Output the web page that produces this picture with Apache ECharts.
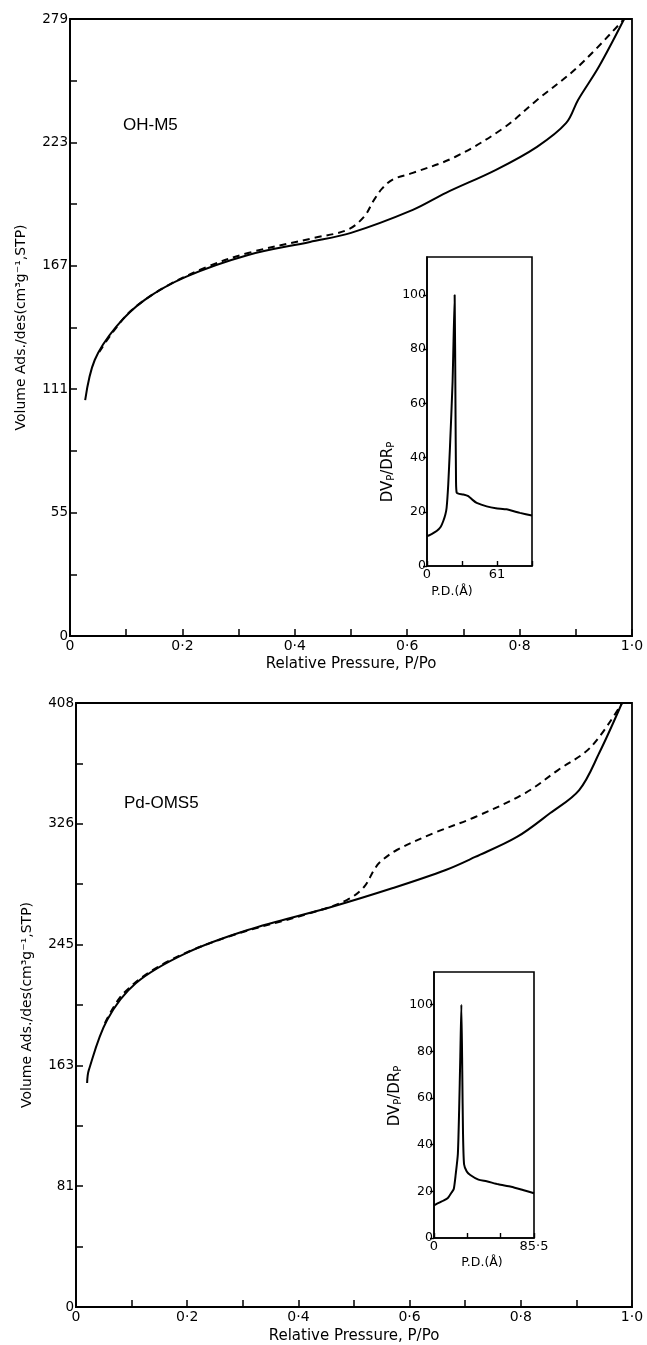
<!DOCTYPE html>
<html>
<head>
<meta charset="utf-8">
<script src="https://cdn.jsdelivr.net/npm/echarts@6/dist/echarts.min.js"></script>
<style>html,body{margin:0;padding:0;background:#fff;}#c{width:647px;height:1345px;}</style>
</head>
<body>
<div id="c"></div>
<script>
// ---------- data ----------
const pLabels = ['0','0·2','0·4','0·6','0·8','1·0'];
const yLabelsTop = ['0','55','111','167','223','279'];
const yLabelsBottom = ['0','81','163','245','326','408'];
const insetTopXLabels = ['0','','61',''];
const insetBottomXLabels = ['0','','','85·5'];
const insetYTicks = [0,20,40,60,80,100];

// OH-M5 adsorption (solid) and desorption (dashed): [P/Po, volume]
const ohAds = [[0.027,106.7],[0.044,124.8],[0.082,139.8],[0.133,152],[0.206,162.4],[0.317,172.3],[0.427,178.2],[0.5,182.3],[0.61,192.7],[0.669,200.4],[0.758,210.8],[0.831,221.2],[0.883,232],[0.904,242.4],[0.941,257.4],[0.986,279]];
const ohDes = [[0.052,128.4],[0.075,137],[0.11,147.4],[0.169,157.8],[0.244,166.9],[0.317,173.2],[0.434,180],[0.493,183.6],[0.523,189.5],[0.541,197.2],[0.556,202.5],[0.575,206.5],[0.61,209.4],[0.685,216.6],[0.772,229.8],[0.831,242.4],[0.904,257.4],[0.986,279]];
// OH-M5 pore size distribution: [P.D. (Å), DVp/DRp]
const ohPsd = [[0,11],[4,11.8],[8.4,12.9],[12,14.5],[14.2,16.6],[16,19],[17.1,21.5],[18.5,30],[20,43.6],[22.3,68],[24.1,100],[24.8,60],[25.3,31],[25.9,27],[28,26.6],[31.7,26.4],[36,25.8],[40,24.3],[43.3,23.3],[52,22],[60,21.3],[69.4,20.9],[81,19.6],[91.5,18.6]];

// Pd-OMS5 adsorption (solid) and desorption (dashed)
const pdAds = [[0.02,151.3],[0.023,160],[0.056,193.9],[0.108,218.9],[0.198,239.1],[0.309,254.7],[0.459,270.2],[0.57,283],[0.665,295.2],[0.718,304],[0.793,317.5],[0.853,333.7],[0.905,349.2],[0.941,374.2],[0.982,408]];
const pdDes = [[0.052,191.8],[0.086,212.1],[0.16,232.4],[0.272,249.9],[0.428,266.8],[0.487,274.9],[0.518,283.7],[0.536,295.2],[0.547,300.6],[0.577,308.7],[0.644,320.2],[0.718,331],[0.808,347.2],[0.867,362.7],[0.926,378.3],[0.982,408]];
// Pd-OMS5 pore size distribution
const pdPsd = [[0,14],[3,14.8],[7,15.8],[11.6,17],[15,19.5],[16.9,21],[18.5,27],[20.4,36],[21.5,55],[22.5,78],[23.4,100],[24.2,70],[24.8,45],[25.7,31.6],[28,28.5],[31,27],[38,25],[45,24.3],[55,23],[66,22],[76,20.6],[85.5,19.2]];

// ---------- chart ----------
const FONT = 'DejaVu Sans';
const black = '#000';
const chart = echarts.init(document.getElementById('c'), null, {renderer:'canvas'});

function mainX(gi, name, nameGap){
  return {
    gridIndex: gi, type:'value', min:0, max:1, interval:0.2,
    name: name, nameLocation:'middle', nameGap: nameGap,
    nameTextStyle:{fontFamily:FONT, fontSize:15, color:black},
    axisLine:{show:true, onZero:false, lineStyle:{color:'#000', width:1.8}},
    axisTick:{show:true, inside:true, length:7, lineStyle:{color:'#000', width:1.5}},
    minorTick:{show:true, splitNumber:2, length:7, lineStyle:{color:'#000', width:1.5}},
    axisLabel:{fontFamily:FONT, fontSize:14, color:black, margin:3,
      formatter: v => pLabels[Math.round(v/0.2)] },
    splitLine:{show:false}, minorSplitLine:{show:false}
  };
}
function mainY(gi, max, labels){
  const step = max/5;
  return {
    gridIndex: gi, type:'value', min:0, max:max, interval:step,
    name:'Volume Ads./des(cm³g⁻¹,STP)', nameLocation:'middle', nameGap:42,
    nameTextStyle:{fontFamily:FONT, fontSize:14, color:black},
    axisLine:{show:true, onZero:false, lineStyle:{color:'#000', width:1.8}},
    axisTick:{show:true, inside:true, length:7, lineStyle:{color:'#000', width:1.5}},
    minorTick:{show:true, splitNumber:2, length:7, lineStyle:{color:'#000', width:1.5}},
    axisLabel:{fontFamily:FONT, fontSize:13.5, color:black, margin:2,
      formatter: v => labels[Math.round(v/step)] },
    splitLine:{show:false}, minorSplitLine:{show:false}
  };
}
function insetX(gi, max, labels){
  const step = max/3;
  return {
    gridIndex: gi, type:'value', min:0, max:max, interval:step,
    axisLine:{show:true, onZero:false, lineStyle:{color:'#000', width:1.6}},
    axisTick:{show:true, inside:true, length:5, lineStyle:{color:'#000', width:1.4}},
    axisLabel:{fontFamily:FONT, fontSize:13, color:black, margin:2,
      formatter: v => labels[Math.round(v/step)] },
    splitLine:{show:false}
  };
}
function insetY(gi, max){
  return {
    gridIndex: gi, type:'value', min:0, max:max,
    axisLine:{show:true, onZero:false, lineStyle:{color:'#000', width:1.6}},
    axisTick:{show:true, inside:false, length:4, customValues: insetYTicks, lineStyle:{color:'#000', width:1.4}},
    axisLabel:{fontFamily:FONT, fontSize:12.5, color:black, margin:1, customValues: insetYTicks},
    splitLine:{show:false}
  };
}
const gridStyle = {show:true, borderColor:'#000', borderWidth:1.8, backgroundColor:'transparent'};
const insetGridStyle = {show:true, borderColor:'#000', borderWidth:1.6, backgroundColor:'#fff'};

function line(xi, data, dashed, smooth){
  return {
    type:'line', xAxisIndex:xi, yAxisIndex:xi, data:data, showSymbol:false, symbol:'none',
    smooth: smooth, animation:false, silent:true,
    lineStyle:{color:'#000', width:2, type: dashed ? [7,5] : 'solid'}
  };
}

function ynameText(x, y){
  return {type:'text', x:x, y:y, rotation:Math.PI/2,
    style:{text:'{a|DV}{s|P}{a|/DR}{s|P}', align:'center', verticalAlign:'middle',
      rich:{a:{font:'15px "DejaVu Sans"', fill:black}, s:{font:'10px "DejaVu Sans"', fill:black, padding:[7,0,0,0]}}}};
}

const option = {
  animation:false,
  grid:[
    Object.assign({left:70, top:19, width:562, height:617}, gridStyle),
    Object.assign({left:76, top:703, width:556, height:604}, gridStyle),
    Object.assign({left:427, top:257, width:105, height:309}, insetGridStyle),
    Object.assign({left:434, top:972, width:100, height:266}, insetGridStyle)
  ],
  xAxis:[
    mainX(0, 'Relative Pressure, P/Po', 21),
    mainX(1, 'Relative Pressure, P/Po', 22),
    insetX(2, 91.5, insetTopXLabels),
    insetX(3, 85.5, insetBottomXLabels)
  ],
  yAxis:[
    mainY(0, 279, yLabelsTop),
    mainY(1, 408, yLabelsBottom),
    insetY(2, 114),
    insetY(3, 114)
  ],
  series:[
    line(0, ohAds, false, 0.35),
    line(0, ohDes, true, 0.35),
    line(1, pdAds, false, 0.35),
    line(1, pdDes, true, 0.35),
    line(2, ohPsd, false, 0.15),
    line(3, pdPsd, false, 0.2)
  ],
  graphic:[
    {type:'text', left:123, top:117, style:{text:'OH-M5', font:'17px "Liberation Sans"', fill:black}},
    {type:'text', left:124, top:795, style:{text:'Pd-OMS5', font:'17px "Liberation Sans"', fill:black}},
    {type:'text', x:452, y:592, style:{text:'P.D.(Å)', font:'12.5px "DejaVu Sans"', fill:black, align:'center', verticalAlign:'middle'}},
    {type:'text', x:482, y:1263, style:{text:'P.D.(Å)', font:'12.5px "DejaVu Sans"', fill:black, align:'center', verticalAlign:'middle'}},
    ynameText(388, 472),
    ynameText(395, 1096)
  ]
};
chart.setOption(option);
</script>
</body>
</html>
